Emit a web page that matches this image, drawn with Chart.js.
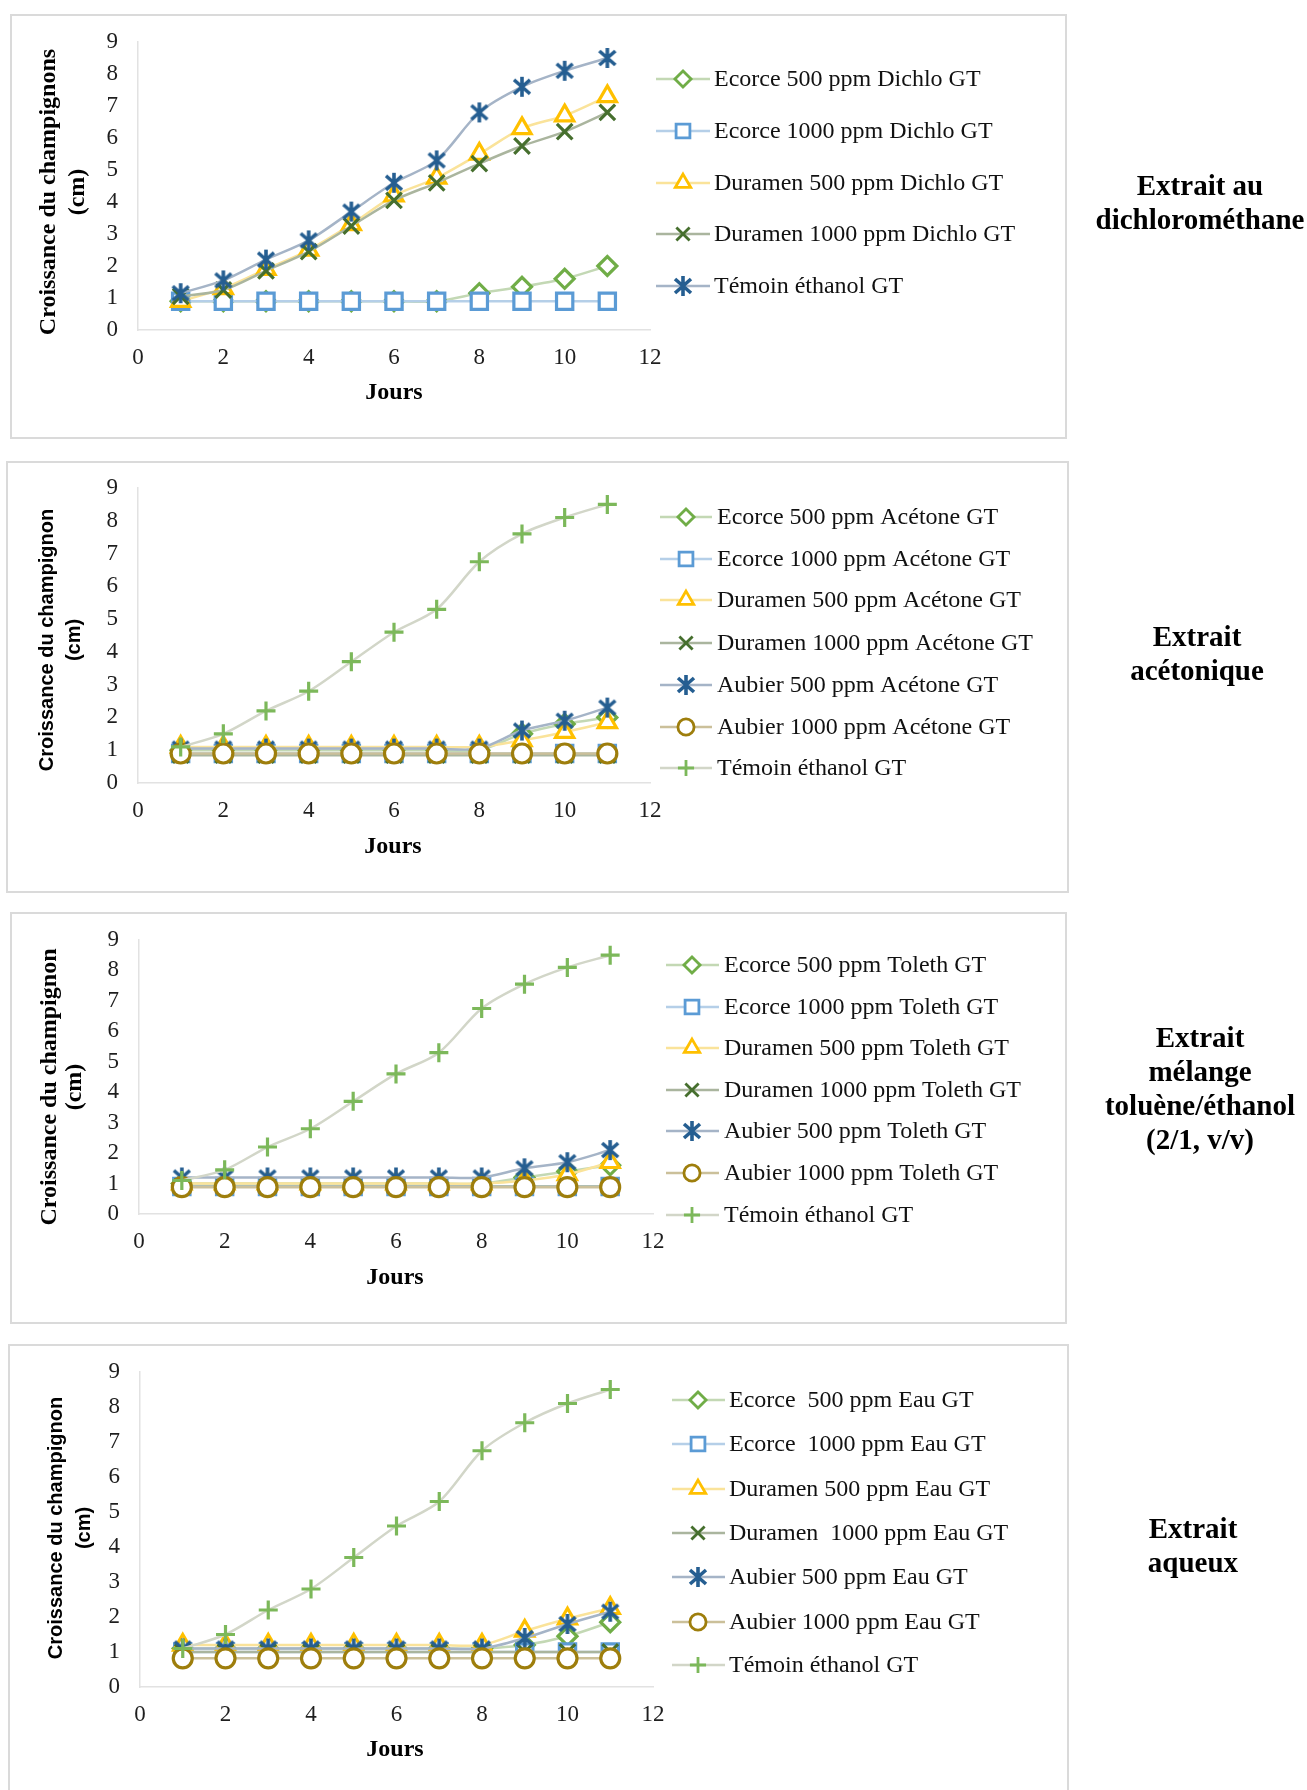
<!DOCTYPE html>
<html>
<head>
<meta charset="utf-8">
<script src="https://cdn.jsdelivr.net/npm/chart.js@4.4.0/dist/chart.umd.min.js"></script>
<style>
  body { margin: 0; background: #fff; width: 1307px; height: 1790px; position: relative; overflow: hidden; }
  .box { position: absolute; border: 2px solid #dadada; box-sizing: border-box; }
  canvas { position: absolute; left: 0; }
  .side { position: absolute; width: 320px; text-align: center; font: bold 29px "Liberation Serif"; line-height: 34px; color: #000; }
</style>
</head>
<body>
<div class="box" style="left:10px;top:14px;width:1057px;height:425px"></div>
<div class="box" style="left:6px;top:461px;width:1063px;height:432px"></div>
<div class="box" style="left:10px;top:912px;width:1057px;height:412px"></div>
<div class="box" style="left:8px;top:1344px;width:1061px;height:460px"></div>

<canvas id="c1" width="1307" height="425" style="top:14px"></canvas>
<canvas id="c2" width="1307" height="432" style="top:461px"></canvas>
<canvas id="c3" width="1307" height="412" style="top:912px"></canvas>
<canvas id="c4" width="1307" height="446" style="top:1344px"></canvas>

<div class="side" style="left:1040px;top:168px">Extrait au<br>dichlorométhane</div>
<div class="side" style="left:1037px;top:619px">Extrait<br>acétonique</div>
<div class="side" style="left:1040px;top:1020px">Extrait<br>mélange<br>toluène/éthanol<br>(2/1, v/v)</div>
<div class="side" style="left:1033px;top:1511px">Extrait<br>aqueux</div>

<script>
// ---- données ----
const days = [1, 2, 3, 4, 5, 6, 7, 8, 9, 10, 11];
const xTickValues = [0, 2, 4, 6, 8, 10, 12];
const yTickValues = [0, 1, 2, 3, 4, 5, 6, 7, 8, 9];
const xTitle = "Jours";

// Extrait au dichlorométhane
const dichloLabels = ["Ecorce 500 ppm Dichlo GT", "Ecorce 1000 ppm Dichlo GT", "Duramen 500 ppm Dichlo GT",
  "Duramen 1000 ppm Dichlo GT", "Témoin éthanol GT"];
const dichloEcorce500 = [0.9, 0.9, 0.9, 0.9, 0.9, 0.9, 0.9, 1.15, 1.35, 1.6, 2.0];
const dichloEcorce1000 = [0.9, 0.9, 0.9, 0.9, 0.9, 0.9, 0.9, 0.9, 0.9, 0.9, 0.9];
const dichloDuramen500 = [0.9, 1.3, 1.9, 2.5, 3.3, 4.2, 4.75, 5.5, 6.3, 6.7, 7.3];
const dichloDuramen1000 = [1.05, 1.25, 1.85, 2.45, 3.25, 4.05, 4.6, 5.2, 5.75, 6.2, 6.8];
const dichloTemoin = [1.15, 1.55, 2.2, 2.8, 3.7, 4.6, 5.3, 6.8, 7.6, 8.1, 8.5];

// Extrait acétonique
const aceLabels = ["Ecorce 500 ppm Acétone GT", "Ecorce 1000 ppm Acétone GT", "Duramen 500 ppm Acétone GT",
  "Duramen 1000 ppm Acétone GT", "Aubier 500 ppm Acétone GT", "Aubier 1000 ppm Acétone GT", "Témoin éthanol GT"];
const aceEcorce500 = [1.0, 1.0, 1.0, 1.0, 1.0, 1.0, 1.0, 1.0, 1.5, 1.8, 2.0];
const aceEcorce1000 = [0.9, 0.9, 0.9, 0.9, 0.9, 0.9, 0.9, 0.9, 0.9, 0.9, 0.9];
const aceDuramen500 = [1.1, 1.1, 1.1, 1.1, 1.1, 1.1, 1.1, 1.1, 1.3, 1.55, 1.85];
const aceDuramen1000 = [0.85, 0.85, 0.85, 0.85, 0.85, 0.85, 0.85, 0.85, 0.85, 0.85, 0.85];
const aceAubier500 = [1.05, 1.05, 1.05, 1.05, 1.05, 1.05, 1.05, 1.05, 1.6, 1.9, 2.3];
const aceAubier1000 = [0.9, 0.9, 0.9, 0.9, 0.9, 0.9, 0.9, 0.9, 0.9, 0.9, 0.9];
const aceTemoin = [1.1, 1.5, 2.2, 2.8, 3.7, 4.6, 5.3, 6.75, 7.6, 8.1, 8.5];

// Extrait mélange toluène/éthanol
const tolLabels = ["Ecorce 500 ppm Toleth GT", "Ecorce 1000 ppm Toleth GT", "Duramen 500 ppm Toleth GT",
  "Duramen 1000 ppm Toleth GT", "Aubier 500 ppm Toleth GT", "Aubier 1000 ppm Toleth GT", "Témoin éthanol GT"];
const tolEcorce500 = [1.0, 1.0, 1.0, 1.0, 1.0, 1.0, 1.0, 1.0, 1.2, 1.4, 1.6];
const tolEcorce1000 = [0.9, 0.9, 0.9, 0.9, 0.9, 0.9, 0.9, 0.9, 0.9, 0.9, 0.9];
const tolDuramen500 = [1.0, 1.0, 1.0, 1.0, 1.0, 1.0, 1.0, 1.0, 1.1, 1.3, 1.7];
const tolDuramen1000 = [0.9, 0.9, 0.9, 0.9, 0.9, 0.9, 0.9, 0.9, 0.9, 0.9, 0.9];
const tolAubier500 = [1.2, 1.2, 1.2, 1.2, 1.2, 1.2, 1.2, 1.2, 1.5, 1.7, 2.1];
const tolAubier1000 = [0.88, 0.88, 0.88, 0.88, 0.88, 0.88, 0.88, 0.88, 0.88, 0.88, 0.88];
const tolTemoin = [1.1, 1.45, 2.2, 2.8, 3.7, 4.6, 5.3, 6.75, 7.55, 8.1, 8.5];

// Extrait aqueux
const eauLabels = ["Ecorce  500 ppm Eau GT", "Ecorce  1000 ppm Eau GT", "Duramen 500 ppm Eau GT",
  "Duramen  1000 ppm Eau GT", "Aubier 500 ppm Eau GT", "Aubier 1000 ppm Eau GT", "Témoin éthanol GT"];
const eauEcorce500 = [1.1, 1.1, 1.1, 1.1, 1.1, 1.1, 1.1, 1.1, 1.2, 1.45, 1.85];
const eauEcorce1000 = [1.0, 1.0, 1.0, 1.0, 1.0, 1.0, 1.0, 1.0, 1.0, 1.0, 1.0];
const eauDuramen500 = [1.2, 1.2, 1.2, 1.2, 1.2, 1.2, 1.2, 1.2, 1.6, 1.95, 2.25];
const eauDuramen1000 = [1.0, 1.0, 1.0, 1.0, 1.0, 1.0, 1.0, 1.0, 1.0, 1.0, 1.0];
const eauAubier500 = [1.1, 1.1, 1.1, 1.1, 1.1, 1.1, 1.1, 1.1, 1.4, 1.8, 2.15];
const eauAubier1000 = [0.82, 0.82, 0.82, 0.82, 0.82, 0.82, 0.82, 0.82, 0.82, 0.82, 0.82];
const eauTemoin = [1.1, 1.5, 2.2, 2.8, 3.7, 4.6, 5.3, 6.75, 7.55, 8.1, 8.5];

// ---- styles des séries ----
function makeStar(color) {
  // astérisque façon Excel : X + trait vertical
  const c = document.createElement("canvas");
  c.width = 24; c.height = 24;
  const g = c.getContext("2d");
  g.strokeStyle = color; g.lineWidth = 3.6; g.lineCap = "butt";
  g.beginPath();
  g.moveTo(4, 5); g.lineTo(20, 19);
  g.moveTo(20, 5); g.lineTo(4, 19);
  g.moveTo(12, 2); g.lineTo(12, 22);
  g.stroke();
  return c;
}

const styleEcorce500 = { line: "#c3d8b4", mark: "#70ad47", pointStyle: "rectRot", r: 9.5 };
const styleEcorce1000 = { line: "#b5cfe8", mark: "#5b9bd5", pointStyle: "rect", r: 11.5 };
const styleDuramen500 = { line: "#fae39a", mark: "#ffc000", pointStyle: "triangle", r: 10.5 };
const styleDuramen1000 = { line: "#aab59e", mark: "#466f2e", pointStyle: "crossRot", r: 11 };
const styleAubier500 = { line: "#a5b4c7", mark: "#255e91", pointStyle: makeStar("#255e91"), r: 10 };
const styleAubier1000 = { line: "#cbc09a", mark: "#9e7e0c", pointStyle: "circle", r: 9.5 };
const styleTemoinPlus = { line: "#d2d6c8", mark: "#7cb85a", pointStyle: "cross", r: 9.5 };

function buildDatasets(labels, series, styles) {
  const n = series.length;
  return series.map((vals, i) => ({
    label: labels[i],
    data: days.map((d, k) => ({ x: d, y: vals[k] })),
    borderColor: styles[i].line,
    borderWidth: 2.5,
    tension: 0.3,
    pointStyle: styles[i].pointStyle,
    pointRadius: styles[i].r,
    pointBorderColor: styles[i].mark,
    pointBackgroundColor: "#ffffff",
    pointBorderWidth: 3.2,
    order: n - i
  }));
}

const panelDecor = {
  id: "panelDecor",
  afterDraw(chart, args, opts) {
    const ctx = chart.ctx;
    const L = opts.layout;
    const top = L.boxTop;
    ctx.save();
    ctx.fillStyle = "#000";
    ctx.textAlign = "center";
    ctx.textBaseline = "middle";

    ctx.font = L.titleFont;
    ["Croissance du " + L.titleWord, "(cm)"].forEach((line, k) => {
      ctx.save();
      ctx.translate(L.titleX[k], L.titleY - top);
      ctx.rotate(-Math.PI / 2);
      ctx.fillText(line, 0, 0);
      ctx.restore();
    });

    ctx.font = 'bold 24px "Liberation Serif"';
    ctx.fillText(xTitle, L.joursX, L.joursY - top);

    chart.data.datasets.forEach((ds, i) => {
      const y = L.legendRows[i] - top;
      ctx.strokeStyle = ds.borderColor;
      ctx.lineWidth = 2.5;
      ctx.beginPath();
      ctx.moveTo(L.legendLine[0], y);
      ctx.lineTo(L.legendLine[1], y);
      ctx.stroke();
      ctx.strokeStyle = ds.pointBorderColor;
      ctx.fillStyle = "#fff";
      ctx.lineWidth = 2.8;
      Chart.helpers.drawPoint(ctx, { pointStyle: ds.pointStyle, radius: ds.pointRadius * 0.85,
        borderWidth: 2.8, rotation: 0 }, L.legendMark, y);
      ctx.fillStyle = "#111";
      ctx.textAlign = "left";
      ctx.font = '24px "Liberation Serif"';
      ctx.fillText(opts.labels[i], L.legendText, y + 1);
      ctx.textAlign = "center";
    });
    ctx.restore();
  }
};

function drawPanel(id, L, labels, datasets) {
  const canvas = document.getElementById(id);
  const H = canvas.height;
  const xAxisH = 40;
  return new Chart(canvas.getContext("2d"), {
    type: "line",
    data: { datasets: datasets },
    plugins: [panelDecor],
    options: {
      responsive: false,
      animation: false,
      devicePixelRatio: 1,
      events: [],
      layout: {
        autoPadding: false,
        padding: {
          left: 0,
          top: L.plotTop - L.boxTop,
          right: 1307 - L.plotRight,
          bottom: H - (L.plotBottom - L.boxTop) - xAxisH
        }
      },
      plugins: {
        legend: { display: false },
        tooltip: { enabled: false },
        panelDecor: { layout: L, labels: labels }
      },
      scales: {
        x: {
          type: "linear",
          min: 0,
          max: 12,
          afterBuildTicks: (s) => { s.ticks = xTickValues.map(v => ({ value: v })); },
          afterFit: (s) => { s.height = xAxisH; s.paddingLeft = 0; s.paddingRight = 0; },
          grid: { display: false, drawTicks: false },
          border: { display: true, color: "#e2e2e2", width: 1.5 },
          ticks: { padding: 14, color: "#1e1e1e", maxRotation: 0, autoSkip: false,
            font: { family: "Liberation Serif", size: 23 } }
        },
        y: {
          min: 0,
          max: 9,
          afterBuildTicks: (s) => { s.ticks = yTickValues.map(v => ({ value: v })); },
          afterFit: (s) => { s.width = L.plotLeft; s.paddingTop = 0; s.paddingBottom = 0; },
          grid: { display: false, drawTicks: false },
          border: { display: true, color: "#e2e2e2", width: 1.5 },
          ticks: { padding: 20, color: "#1e1e1e", autoSkip: false,
            font: { family: "Liberation Serif", size: 23 } }
        }
      }
    }
  });
}

const serifTitle = 'bold 24px "Liberation Serif"';
const sansTitle = 'bold 20px "Liberation Sans"';

drawPanel("c1", {
  boxTop: 14, plotLeft: 138, plotRight: 650, plotTop: 42, plotBottom: 330,
  titleFont: serifTitle, titleWord: "champignons", titleX: [49, 78], titleY: 192,
  joursX: 394, joursY: 393,
  legendRows: [79, 131, 183, 234, 286], legendLine: [656, 710], legendMark: 683, legendText: 714
}, dichloLabels, buildDatasets(dichloLabels,
  [dichloEcorce500, dichloEcorce1000, dichloDuramen500, dichloDuramen1000, dichloTemoin],
  [styleEcorce500, styleEcorce1000, styleDuramen500, styleDuramen1000, styleAubier500]));

const sevenStyles = [styleEcorce500, styleEcorce1000, styleDuramen500, styleDuramen1000,
  styleAubier500, styleAubier1000, styleTemoinPlus];

drawPanel("c2", {
  boxTop: 461, plotLeft: 138, plotRight: 650, plotTop: 488, plotBottom: 783,
  titleFont: sansTitle, titleWord: "champignon", titleX: [47, 74], titleY: 640,
  joursX: 393, joursY: 847,
  legendRows: [517, 559, 600, 643, 685, 727, 768], legendLine: [660, 712], legendMark: 686, legendText: 717
}, aceLabels, buildDatasets(aceLabels,
  [aceEcorce500, aceEcorce1000, aceDuramen500, aceDuramen1000, aceAubier500, aceAubier1000, aceTemoin],
  sevenStyles));

drawPanel("c3", {
  boxTop: 912, plotLeft: 139, plotRight: 653, plotTop: 940, plotBottom: 1214,
  titleFont: serifTitle, titleWord: "champignon", titleX: [50, 75], titleY: 1087,
  joursX: 395, joursY: 1278,
  legendRows: [965, 1007, 1048, 1090, 1131, 1173, 1215], legendLine: [666, 719], legendMark: 692, legendText: 724
}, tolLabels, buildDatasets(tolLabels,
  [tolEcorce500, tolEcorce1000, tolDuramen500, tolDuramen1000, tolAubier500, tolAubier1000, tolTemoin],
  sevenStyles));

drawPanel("c4", {
  boxTop: 1344, plotLeft: 140, plotRight: 653, plotTop: 1372, plotBottom: 1687,
  titleFont: sansTitle, titleWord: "champignon", titleX: [56, 84], titleY: 1528,
  joursX: 395, joursY: 1750,
  legendRows: [1400, 1444, 1489, 1533, 1577, 1622, 1665], legendLine: [672, 725], legendMark: 698, legendText: 729
}, eauLabels, buildDatasets(eauLabels,
  [eauEcorce500, eauEcorce1000, eauDuramen500, eauDuramen1000, eauAubier500, eauAubier1000, eauTemoin],
  sevenStyles));
</script>
</body>
</html>
